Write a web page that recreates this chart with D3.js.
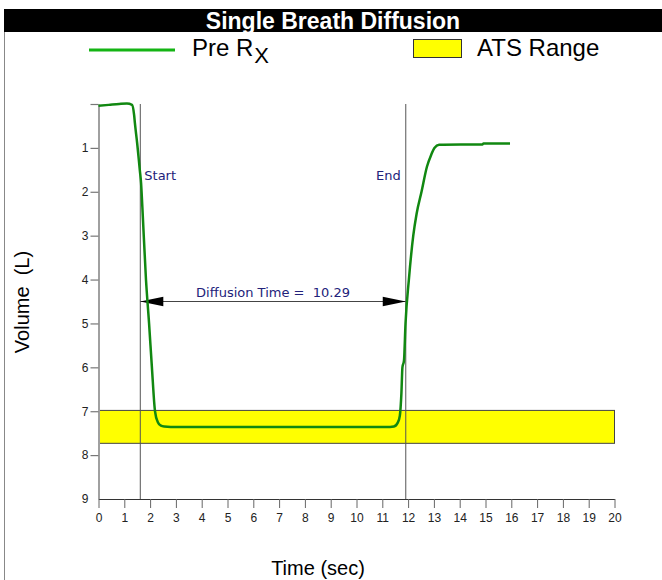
<!DOCTYPE html>
<html>
<head>
<meta charset="utf-8">
<script src="https://cdn.jsdelivr.net/npm/d3@7"></script>
<style>
  body { margin: 0; background: #fff; }
  svg { display: block; font-family: "Liberation Sans", Arial, sans-serif; }
</style>
</head>
<body>
<svg id="chart"></svg>
<script>
// curve
const timeSec = [0, 0.4, 0.8, 1.1, 1.3, 1.38, 1.41, 1.5, 1.6, 1.65, 1.7, 1.84, 1.96, 2.07, 2.19, 2.3, 2.42, 2.55, 2.8,
  11.3, 11.45, 11.6, 11.68, 11.74, 11.78, 11.84, 11.9, 12.03, 12.2, 12.33, 12.52, 12.73, 12.9, 13.02, 13.2, 14.88, 14.92, 15.95];
const volumeL = [0.04, 0.02, 0.0, -0.01, 0.02, 0.25, 0.43, 0.9, 1.5, 1.8, 2.35, 4.0, 5.0, 6.0, 7.0, 7.25, 7.33, 7.35, 7.36,
  7.36, 7.35, 7.26, 7.1, 6.6, 6.0, 5.85, 5.0, 4.0, 3.0, 2.5, 2.0, 1.43, 1.15, 1.0, 0.93, 0.92, 0.9, 0.9];

const xTicks = d3.range(0, 21);
const yTicks = [0, 1, 2, 3, 4, 5, 6, 7, 8, 9];
const yTickLabels = ["", "1", "2", "3", "4", "5", "6", "7", "8", "9"];

const atsRange = [6.97, 7.72];
const startTime = 1.62;
const endTime = 11.91;
const diffusionTime = "10.29";

const width = 662;
const height = 580;
const plot = { left: 98.5, right: 614.5, top: 104, bottom: 499 };
const navy = "#22227a";

const svg = d3.select("#chart").attr("width", width).attr("height", height);

const x = d3.scaleLinear().domain([0, 20]).range([plot.left, plot.right]);
const y = d3.scaleLinear().domain([0, 9]).range([plot.top, plot.bottom]);

// frame + title bar
svg.append("line")
  .attr("x1", 4.5).attr("x2", 4.5).attr("y1", 32).attr("y2", height)
  .attr("stroke", "#888");
svg.append("rect")
  .attr("x", 4).attr("y", 9).attr("width", width - 4).attr("height", 23)
  .attr("fill", "#000");
svg.append("text")
  .attr("x", 333).attr("y", 29)
  .attr("text-anchor", "middle")
  .attr("fill", "#fff")
  .attr("font-weight", "bold")
  .attr("font-size", "23px")
  .text("Single Breath Diffusion");

// legend
svg.append("line")
  .attr("x1", 89).attr("x2", 175).attr("y1", 50).attr("y2", 50)
  .attr("stroke", "#14b414").attr("stroke-width", 3);
const pre = svg.append("text").attr("x", 192).attr("y", 56).attr("font-size", "24px").attr("fill", "#000");
pre.append("tspan").text("Pre R");
pre.append("tspan").attr("dx", 1).attr("dy", 7).attr("font-size", "22px").text("X");
svg.append("rect")
  .attr("x", 413.5).attr("y", 39.5).attr("width", 48).attr("height", 18)
  .attr("fill", "#ffff00").attr("stroke", "#333");
svg.append("text")
  .attr("x", 477).attr("y", 56)
  .attr("font-size", "24px")
  .text("ATS Range");

// ATS band
svg.append("rect")
  .attr("x", x(0)).attr("y", y(atsRange[0]) + 0.5)
  .attr("width", x(20) - x(0))
  .attr("height", y(atsRange[1]) - y(atsRange[0]))
  .attr("fill", "#ffff00").attr("stroke", "#444");

// axes
const xAxis = d3.axisBottom(x).tickValues(xTicks).tickSize(9).tickSizeOuter(0);
const gx = svg.append("g").attr("transform", `translate(0, ${plot.bottom})`).call(xAxis);
gx.select(".domain").attr("stroke", "#333");
gx.selectAll(".tick line").attr("stroke", "#666");
gx.selectAll(".tick text").attr("font-size", "12px").attr("fill", "#222").attr("font-family", "Liberation Sans, Arial").attr("dy", "0.9em");

const yAxis = d3.axisLeft(y).tickValues(yTicks).tickFormat((d, i) => yTickLabels[i]).tickSize(8).tickSizeOuter(0);
const gy = svg.append("g").attr("transform", `translate(${plot.left}, 0)`).call(yAxis);
gy.select(".domain").attr("stroke", "#a0a0a0").attr("stroke-width", 2);
gy.selectAll(".tick line").attr("stroke", "#777").attr("stroke-width", 1.2);
gy.selectAll(".tick").filter((d) => d === 9).select("line").remove();
gy.selectAll(".tick text").attr("font-size", "12px").attr("fill", "#222").attr("font-family", "Liberation Sans, Arial").attr("x", -10);
gx.raise();

// start / end markers
[startTime, endTime].forEach((t) => {
  svg.append("line")
    .attr("x1", x(t)).attr("x2", x(t))
    .attr("y1", plot.top).attr("y2", plot.bottom)
    .attr("stroke", "#555");
});
svg.append("text")
  .attr("x", x(startTime) + 4).attr("y", 180)
  .attr("font-family", "DejaVu Sans, Verdana")
  .attr("font-size", "13px").attr("fill", navy)
  .text("Start");
svg.append("text")
  .attr("x", x(endTime) - 5).attr("y", 180)
  .attr("text-anchor", "end")
  .attr("font-family", "DejaVu Sans, Verdana")
  .attr("font-size", "13px").attr("fill", navy)
  .text("End");

// diffusion time arrow
const arrowY = 301.5;
const x0 = x(startTime);
const x1 = x(endTime);
svg.append("line")
  .attr("x1", x0).attr("x2", x1).attr("y1", arrowY).attr("y2", arrowY)
  .attr("stroke", "#444");
svg.append("path")
  .attr("d", `M${x0},${arrowY} L${x0 + 23},${arrowY - 4.7} L${x0 + 23},${arrowY + 4.7} Z`)
  .attr("fill", "#000");
svg.append("path")
  .attr("d", `M${x1},${arrowY} L${x1 - 23},${arrowY - 4.7} L${x1 - 23},${arrowY + 4.7} Z`)
  .attr("fill", "#000");
svg.append("text")
  .attr("x", (x0 + x1) / 2).attr("y", 297)
  .attr("text-anchor", "middle")
  .attr("font-family", "DejaVu Sans, Verdana")
  .attr("font-size", "13px").attr("fill", navy)
  .style("white-space", "pre")
  .text("Diffusion Time =  " + diffusionTime);

// volume trace
const line = d3.line()
  .x((d, i) => x(timeSec[i]))
  .y((d) => y(d))
  .curve(d3.curveMonotoneX);
svg.append("path")
  .attr("d", line(volumeL))
  .attr("fill", "none")
  .attr("stroke", "#118811")
  .attr("stroke-width", 2.5);

// axis titles
svg.append("text")
  .attr("transform", `translate(29, 302) rotate(-90)`)
  .attr("text-anchor", "middle")
  .attr("font-size", "20px")
  .style("white-space", "pre")
  .text("Volume  (L)");
svg.append("text")
  .attr("x", 318).attr("y", 575)
  .attr("text-anchor", "middle")
  .attr("font-size", "20px")
  .text("Time (sec)");
</script>
</body>
</html>
